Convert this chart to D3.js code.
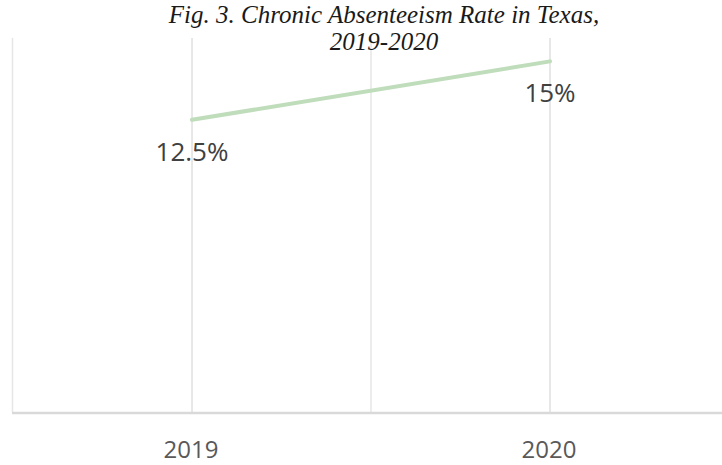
<!DOCTYPE html>
<html lang="en">
<head>
<meta charset="UTF-8">
<title>Chronic Absenteeism Rate in Texas</title>
<script src="https://d3js.org/d3.v7.min.js"></script>
<style>
  body { margin: 0; background: #fff; }
  svg { display: block; }
</style>
</head>
<body>
<div id="chart"></div>
<script>
  // data
  const years = ["2019", "2020"];
  const rates = [12.5, 15];
  const rateLabels = ["12.5%", "15%"];
  const titleLines = ["Fig. 3. Chronic Absenteeism Rate in Texas,", "2019-2020"];

  const W = 722, H = 465;
  const plotTop = 38, plotBottom = 412;

  const svg = d3.select("#chart").append("svg")
    .attr("width", W)
    .attr("height", H);

  const x = d3.scaleBand()
    .domain(years)
    .range([13, 729]);

  const y = d3.scaleLinear()
    .domain([0, 16])
    .range([plotBottom, plotTop]);

  // gridlines between categories
  const bounds = [x.range()[0] - 0.5, x(years[1])];
  svg.selectAll(".grid-b")
    .data(bounds)
    .enter().append("line")
    .attr("class", "grid-b")
    .attr("x1", d => d).attr("x2", d => d)
    .attr("y1", plotTop).attr("y2", plotBottom)
    .attr("stroke", "#e6e6e6")
    .attr("stroke-width", 1.5);

  // lines at category centers
  svg.selectAll(".grid-c")
    .data(years)
    .enter().append("line")
    .attr("class", "grid-c")
    .attr("x1", d => x(d) + x.bandwidth() / 2)
    .attr("x2", d => x(d) + x.bandwidth() / 2)
    .attr("y1", plotTop).attr("y2", plotBottom)
    .attr("stroke", "#d0d0d0")
    .attr("stroke-width", 1);

  // baseline
  svg.append("line")
    .attr("x1", 12).attr("x2", W)
    .attr("y1", y(0) + 1).attr("y2", y(0) + 1)
    .attr("stroke", "#d9d9d9")
    .attr("stroke-width", 2.5);

  // series line
  const pts = years.map((yr, i) => ({ yr: yr, v: rates[i], label: rateLabels[i] }));
  const line = d3.line()
    .x(d => x(d.yr) + x.bandwidth() / 2)
    .y(d => y(d.v));

  svg.append("path")
    .datum(pts)
    .attr("fill", "none")
    .attr("stroke", "#bfdcbb")
    .attr("stroke-width", 4)
    .attr("stroke-linecap", "round")
    .attr("d", line);

  // data labels
  svg.selectAll(".dl")
    .data(pts)
    .enter().append("text")
    .attr("class", "dl")
    .attr("x", d => x(d.yr) + x.bandwidth() / 2)
    .attr("y", d => y(d.v) + 41)
    .attr("text-anchor", "middle")
    .attr("font-family", "'Open Sans', sans-serif")
    .attr("font-size", 26)
    .attr("fill", "#404040")
    .text(d => d.label);

  // x axis labels
  const xAxis = d3.axisBottom(x).tickSize(0).tickPadding(0);
  const gx = svg.append("g")
    .attr("transform", `translate(-1,${plotBottom})`)
    .call(xAxis);
  gx.select(".domain").remove();
  gx.selectAll("text")
    .attr("dy", null)
    .attr("y", 46)
    .attr("font-family", "'Open Sans', sans-serif")
    .attr("font-size", 24)
    .attr("fill", "#595959");

  // title
  svg.selectAll(".title")
    .data(titleLines)
    .enter().append("text")
    .attr("class", "title")
    .attr("x", 384)
    .attr("y", (d, i) => 23 + i * 27)
    .attr("text-anchor", "middle")
    .attr("font-family", "'Liberation Serif', serif")
    .attr("font-style", "italic")
    .attr("font-size", 25)
    .attr("fill", "#1a1a1a")
    .text(d => d);
</script>
</body>
</html>
